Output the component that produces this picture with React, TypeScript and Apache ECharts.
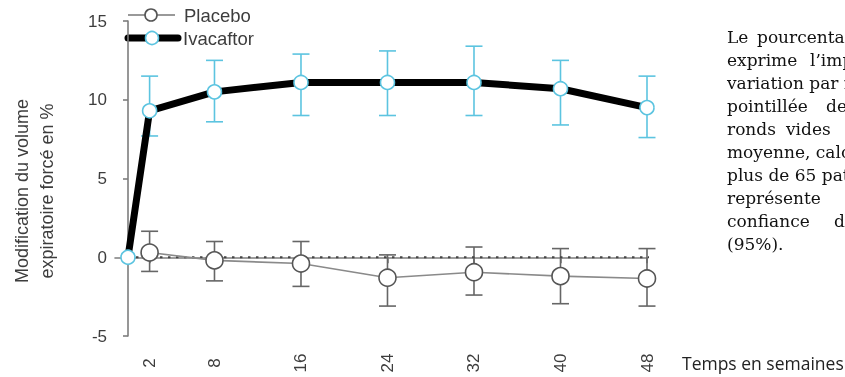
import React, { useEffect, useRef } from "react";
import * as echarts from "echarts";

// ---- data ----
const weeks = [0, 2, 8, 16, 24, 32, 40, 48];
const ivacaftorMean = [0, 9.3, 10.5, 11.1, 11.1, 11.1, 10.7, 9.5];
const ivacaftorLow = [null, 7.7, 8.6, 9.0, 9.0, 9.0, 8.4, 7.6];
const ivacaftorHigh = [null, 11.5, 12.5, 12.9, 13.1, 13.4, 12.5, 11.5];

const placeboWeeks = [2, 8, 16, 24, 32, 40, 48];
const placeboMean = [0.3, -0.2, -0.4, -1.3, -0.95, -1.2, -1.35];
const placeboLow = [-0.9, -1.5, -1.85, -3.1, -2.4, -2.95, -3.1];
const placeboHigh = [1.65, 1.0, 1.0, 0.15, 0.65, 0.55, 0.55];

const xTickWeeks = [2, 8, 16, 24, 32, 40, 48];
const zeroLineWeeks = [0, 49.2];

const legendNames = ["Placebo", "Ivacaftor"];
const yTitleLines = ["Modification du volume", "expiratoire forcé en %"];
const xTitle = "Temps en semaines";
const paragraphLines: string[][] = [
  ["Le", "pourcentage"],
  ["exprime", "l’importance"],
  ["variation par rapport"],
  ["pointillée", "de"],
  ["ronds", "vides"],
  ["moyenne, calculée"],
  ["plus de 65 patients"],
  ["représente"],
  ["confiance", "de"],
  ["(95%)."],
];
const paragraphWordX: number[][] = [
  [727, 757],
  [727, 810],
  [727],
  [727, 826],
  [727, 786],
  [727],
  [727],
  [727],
  [727, 834],
  [727],
];

const BLUE = "#5cc4e0";
const AXIS = "#7d7d7d";
const TEXT = "#3d3d3d";

function errorBarSeries(xs: number[], lo: (number | null)[], hi: (number | null)[], color: string, half: number) {
  const data: any[] = [];
  xs.forEach((x, i) => {
    if (lo[i] != null && hi[i] != null) data.push([x, lo[i], hi[i]]);
  });
  return {
    type: "custom",
    data,
    encode: { x: 0, y: [1, 2] },
    silent: true,
    renderItem: (params: any, api: any) => {
      const x = api.value(0);
      const pLo = api.coord([x, api.value(1)]);
      const pHi = api.coord([x, api.value(2)]);
      const st = { stroke: color, lineWidth: 1.6 };
      return {
        type: "group",
        children: [
          { type: "line", shape: { x1: pLo[0], y1: pLo[1], x2: pHi[0], y2: pHi[1] }, style: st },
          { type: "line", shape: { x1: pLo[0] - half, y1: pLo[1], x2: pLo[0] + half, y2: pLo[1] }, style: st },
          { type: "line", shape: { x1: pHi[0] - half, y1: pHi[1], x2: pHi[0] + half, y2: pHi[1] }, style: st },
        ],
      };
    },
  };
}

export default function App() {
  const ref = useRef<HTMLDivElement>(null);
  useEffect(() => {
    if (!ref.current) return;
    const chart = echarts.init(ref.current, null, { renderer: "svg" });

    const graphics: any[] = [];
    // legend
    graphics.push(
      { type: "line", shape: { x1: 128, y1: 15, x2: 175, y2: 15 }, style: { stroke: "#777", lineWidth: 1.6 } },
      { type: "circle", shape: { cx: 151, cy: 15, r: 6 }, style: { fill: "#fff", stroke: "#555", lineWidth: 1.6 } },
      { type: "text", x: 184, y: 15, style: { text: legendNames[0], font: "18.5px 'Liberation Sans'", fill: TEXT, verticalAlign: "middle" } },
      { type: "line", shape: { x1: 128, y1: 38, x2: 178, y2: 38 }, style: { stroke: "#000", lineWidth: 7, lineCap: "round" } },
      { type: "circle", shape: { cx: 152, cy: 38, r: 6.5 }, style: { fill: "#fff", stroke: BLUE, lineWidth: 1.6 } },
      { type: "text", x: 183, y: 38, style: { text: legendNames[1], font: "18.5px 'Liberation Sans'", fill: TEXT, verticalAlign: "middle" } }
    );
    // y title
    yTitleLines.forEach((t, i) => {
      graphics.push({
        type: "text",
        x: 22 + i * 25,
        y: 191,
        rotation: Math.PI / 2,
        style: { text: t, font: "18px 'Liberation Sans'", fill: TEXT, align: "center", verticalAlign: "middle" },
      });
    });
    // x title
    graphics.push({
      type: "text",
      x: 682,
      y: 363,
      style: { text: xTitle, font: "17.5px 'Open Sans'", fill: "#222", verticalAlign: "middle" },
    });
    // paragraph
    paragraphLines.forEach((words, li) => {
      words.forEach((w, wi) => {
        graphics.push({
          type: "text",
          x: paragraphWordX[li][wi],
          y: 37 + li * 23,
          style: { text: w, font: "17px 'DejaVu Serif'", fill: "#111", verticalAlign: "middle" },
        });
      });
    });

    chart.setOption({
      animation: false,
      grid: { left: 115, right: 198, top: 21, bottom: 41, containLabel: false },
      xAxis: {
        type: "value",
        min: -1.2,
        max: 48,
        splitLine: { show: false },
        axisLine: { lineStyle: { color: AXIS, width: 1.6 } },
        axisTick: { show: true, customValues: xTickWeeks, length: 6, lineStyle: { color: AXIS, width: 1.6 } },
        axisLabel: {
          customValues: xTickWeeks,
          rotate: 90,
          align: "center",
          verticalAlign: "middle",
          margin: 27,
          fontSize: 17,
          fontFamily: "Liberation Sans",
          color: TEXT,
        },
      },
      yAxis: {
        type: "value",
        min: -5,
        max: 15,
        interval: 5,
        splitLine: { show: false },
        axisLine: { show: true, lineStyle: { color: AXIS, width: 1.6 } },
        axisTick: { show: true, length: 5, lineStyle: { color: AXIS, width: 1.6 } },
        axisLabel: { margin: 8, fontSize: 17, fontFamily: "Liberation Sans", color: TEXT },
      },
      graphic: graphics,
      series: [
        {
          type: "line",
          data: zeroLineWeeks.map((w) => [w, 0]),
          symbol: "none",
          clip: false,
          silent: true,
          lineStyle: { color: "#444", width: 1.8, type: [2.5, 5.5] },
        },
        errorBarSeries(placeboWeeks, placeboLow, placeboHigh, "#666", 8.5),
        {
          type: "line",
          name: legendNames[0],
          data: placeboWeeks.map((w, i) => [w, placeboMean[i]]),
          symbol: "circle",
          symbolSize: 17,
          itemStyle: { color: "#fff", borderColor: "#555", borderWidth: 1.6 },
          lineStyle: { color: "#8a8a8a", width: 1.6 },
        },
        errorBarSeries(weeks, ivacaftorLow, ivacaftorHigh, BLUE, 8.5),
        {
          type: "line",
          name: legendNames[1],
          data: weeks.map((w, i) => [w, ivacaftorMean[i]]),
          symbol: "circle",
          symbolSize: 14,
          clip: false,
          itemStyle: { color: "#fff", borderColor: BLUE, borderWidth: 1.6 },
          lineStyle: { color: "#000", width: 7 },
        },
      ],
    });
    return () => chart.dispose();
  }, []);
  return <div ref={ref} style={{ position: "fixed", left: 0, top: 0, width: 845, height: 377 }} />;
}
